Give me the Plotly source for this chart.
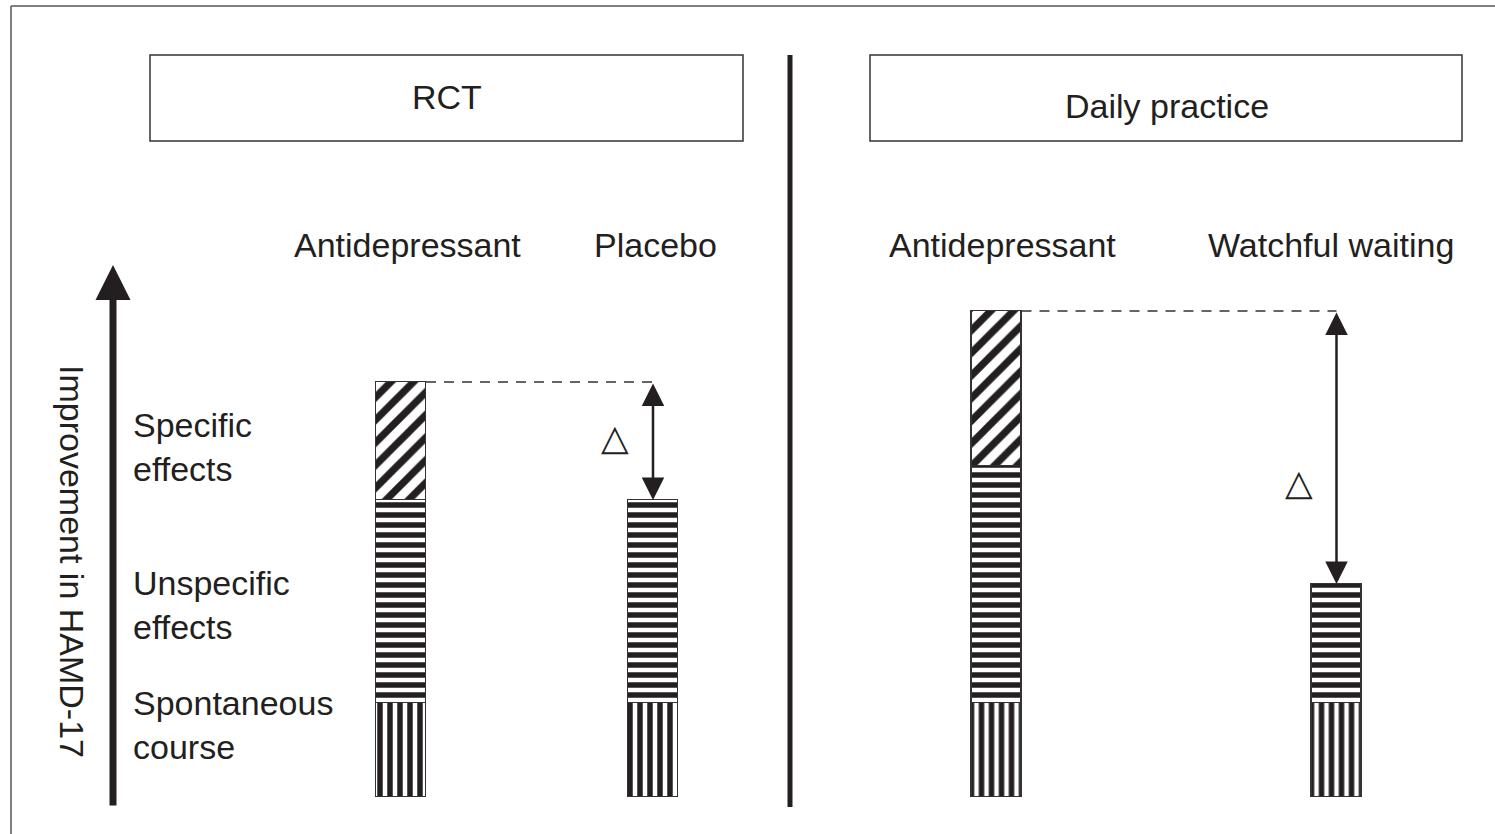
import plotly.graph_objects as go

W, H = 1495, 834

# ---------------- data ----------------
panel_titles = ["RCT", "Daily practice"]
rct_groups = ["Antidepressant", "Placebo"]
daily_groups = ["Antidepressant", "Watchful waiting"]
# improvement in HAMD-17 (conceptual units), stacked bottom -> top
rct_spontaneous = [9.4, 9.4]
rct_unspecific = [20.3, 20.3]
rct_specific = [11.8, 0.0]
daily_spontaneous = [9.4, 9.4]
daily_unspecific = [23.7, 11.9]
daily_specific = [15.5, 0.0]
component_names = ["Spontaneous course", "Unspecific effects", "Specific effects"]
component_labels = ["Spontaneous<br>course", "Unspecific<br>effects", "Specific<br>effects"]
y_label = "Improvement in HAMD-17"
delta_symbol = "△"

# ---------------- styles ----------------
INK = "#231f20"
FONT = "Liberation Sans, Arial, Helvetica, sans-serif"
FS = 34
patterns = {
    "Spontaneous course": dict(shape="|", size=10, solidity=0.55),
    "Unspecific effects": dict(shape="-", size=10, solidity=0.55),
    "Specific effects": dict(shape="/", size=16, solidity=0.45),
}
label_xshift = {"x": [6, 2], "x2": [6, -6]}


def px(x):
    return x / W


def py(y):
    return 1 - y / H


# panel geometry (pixels)
left_dom = [275 / W, 779 / W]
right_dom = [826.5 / W, 1472.5 / W]
left_w = 50 / 252
right_w = 50 / 340
yrange = [-3.7, 79.7]

fig = go.Figure()

panels = [
    ("x", "y", rct_groups, [rct_spontaneous, rct_unspecific, rct_specific], left_w),
    ("x2", "y2", daily_groups, [daily_spontaneous, daily_unspecific, daily_specific], right_w),
]

for xa, ya, groups, comps, bw in panels:
    for name, vals in zip(component_names, comps):
        fig.add_trace(go.Bar(
            x=groups, y=vals, name=name, xaxis=xa, yaxis=ya,
            width=[bw] * len(groups),
            marker=dict(color="white",
                        line=dict(color="#333", width=1.5),
                        pattern=dict(fgcolor=INK, fgopacity=1, **patterns[name])),
            showlegend=False, hoverinfo="skip",
        ))

shapes = []
annotations = []


def text_ann(x, y, text, xref="paper", yref="paper", **kw):
    d = dict(xref=xref, yref=yref, x=x, y=y, text=text, showarrow=False,
             xanchor="center", yanchor="middle",
             font=dict(family=FONT, size=FS, color=INK))
    d.update(kw)
    return d


# dashed reference lines + delta arrows, from data totals
for xa, ya, comps, bw in [("x", "y", [rct_spontaneous, rct_unspecific, rct_specific], left_w),
                          ("x2", "y2", [daily_spontaneous, daily_unspecific, daily_specific], right_w)]:
    totals = [sum(c[i] for c in comps) for i in range(2)]
    shapes.append(dict(type="line", xref=xa, yref=ya, x0=0 + bw / 2, x1=1,
                       y0=totals[0], y1=totals[0],
                       line=dict(color="#333", width=1.5, dash="10px,8px")))
    annotations.append(dict(xref=xa, yref=ya, axref=xa, ayref=ya,
                            x=1, y=totals[1], ax=1, ay=totals[0], text="",
                            showarrow=True, arrowhead=2, startarrowhead=2,
                            arrowside="end+start", arrowwidth=2.5, arrowsize=1.8,
                            startarrowsize=1.8, arrowcolor=INK,
                            standoff=0, startstandoff=0))

# delta symbols
annotations.append(text_ann(px(615), py(438), delta_symbol,
                            font=dict(family="DejaVu Sans", size=36, color=INK)))
annotations.append(text_ann(px(1299), py(483), delta_symbol,
                            font=dict(family="DejaVu Sans", size=36, color=INK)))

# panel title boxes
shapes.append(dict(type="rect", xref="paper", yref="paper", x0=px(150), x1=px(743),
                   y0=py(55), y1=py(141), line=dict(color="#333", width=1.5)))
shapes.append(dict(type="rect", xref="paper", yref="paper", x0=px(870), x1=px(1462),
                   y0=py(55), y1=py(141), line=dict(color="#333", width=1.5)))
annotations.append(text_ann(px(447), py(97), panel_titles[0]))
annotations.append(text_ann(px(1167), py(106), panel_titles[1]))

# group labels above bars
for xa, groups in [("x", rct_groups), ("x2", daily_groups)]:
    for i, g in enumerate(groups):
        annotations.append(text_ann(i, py(245), g, xref=xa, xshift=label_xshift[xa][i]))

# component labels on the left
for lab, ycen in zip(component_labels, [725, 605, 447]):
    annotations.append(text_ann(px(131), py(ycen), lab, xanchor="left", align="left"))

# y-axis label and arrow
annotations.append(text_ann(px(72), py(561), y_label, textangle=90))
annotations.append(dict(xref="paper", yref="paper", x=px(113), y=py(265), ax=0, ay=807 - 265,
                        axref="pixel", ayref="pixel", text="", showarrow=True,
                        arrowhead=2, arrowwidth=7, arrowsize=1.0, arrowcolor=INK, standoff=0))

# separator between panels
shapes.append(dict(type="line", xref="paper", yref="paper", x0=px(790), x1=px(790),
                   y0=py(55), y1=py(807), line=dict(color=INK, width=5)))

# outer frame (top and left visible)
shapes.append(dict(type="line", xref="paper", yref="paper", x0=px(11), x1=1.01,
                   y0=py(6), y1=py(6), line=dict(color="#555", width=1.5)))
shapes.append(dict(type="line", xref="paper", yref="paper", x0=px(11), x1=px(11),
                   y0=py(6), y1=-0.01, line=dict(color="#555", width=1.5)))

axis_off = dict(visible=False, showgrid=False, zeroline=False, fixedrange=True)
fig.update_layout(
    width=W, height=H,
    margin=dict(l=0, r=0, t=0, b=0),
    paper_bgcolor="white", plot_bgcolor="white",
    barmode="stack", bargap=0,
    showlegend=False,
    xaxis=dict(domain=left_dom, range=[-0.5, 1.5], type="category", **axis_off),
    xaxis2=dict(domain=right_dom, range=[-0.5, 1.4], type="category", anchor="y2", **axis_off),
    yaxis=dict(domain=[0, 1], range=yrange, **axis_off),
    yaxis2=dict(domain=[0, 1], range=yrange, anchor="x2", **axis_off),
    shapes=shapes,
    annotations=annotations,
)

fig.write_html(
    "out.html",
    config={"displayModeBar": False},
    post_script="document.body.style.margin='0';document.body.style.overflow='hidden';",
)
